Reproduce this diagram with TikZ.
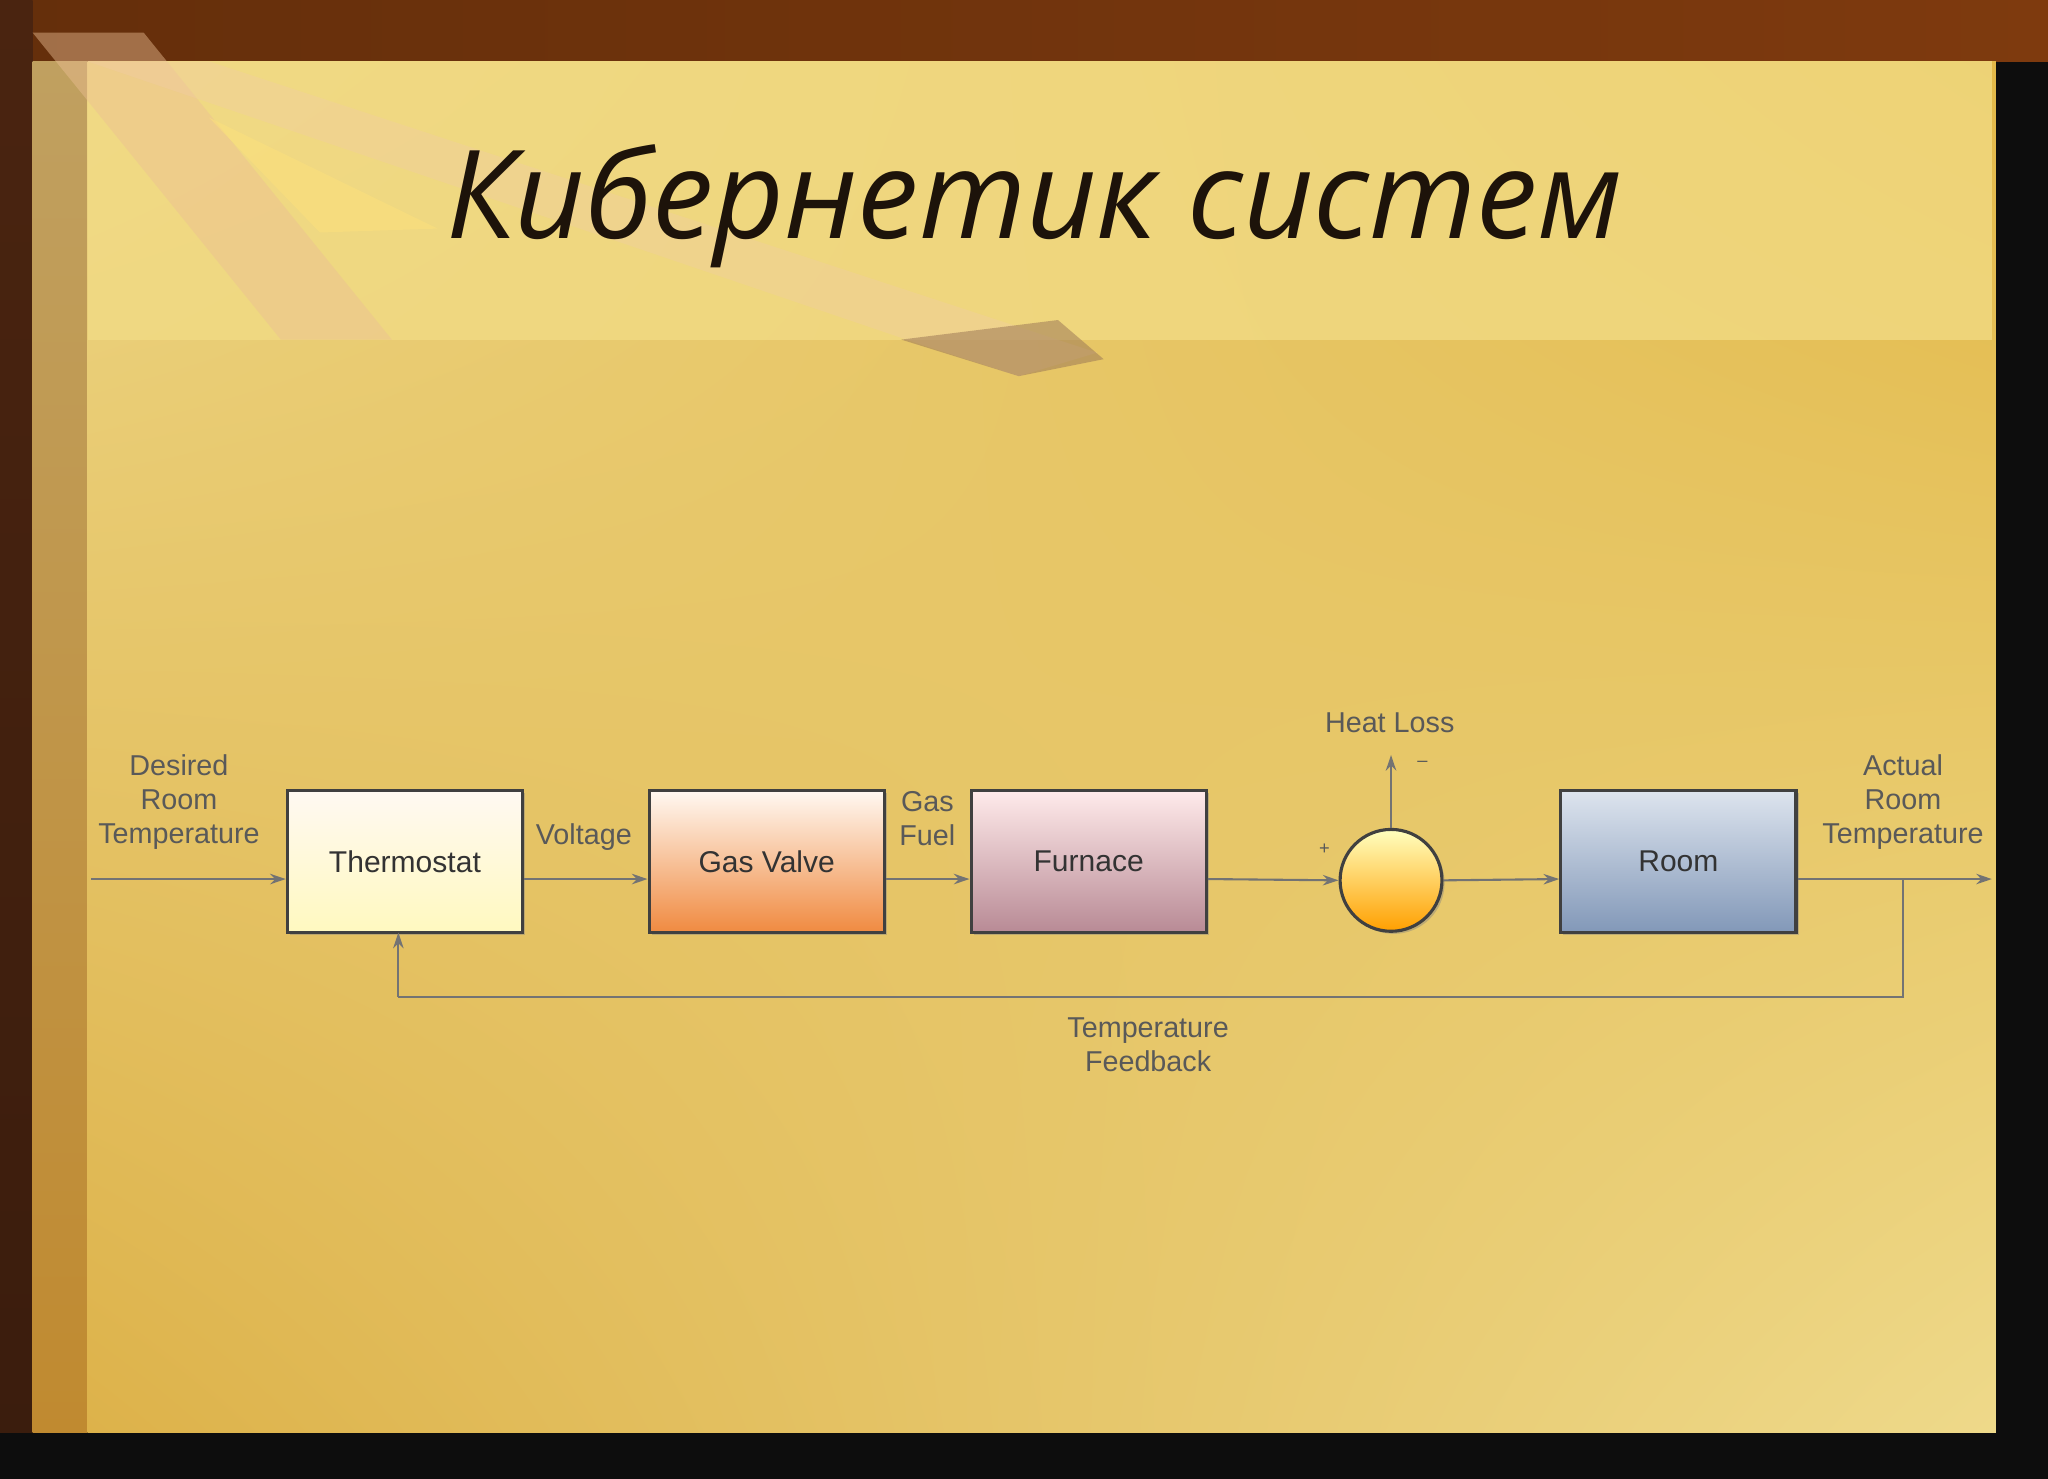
\documentclass[tikz,border=0pt]{standalone}
\usepackage{fontspec}
\setmainfont{Liberation Sans}
\newfontfamily\titlefont{Open Sans}
\usetikzlibrary{arrows.meta,shadows,shadings}
\definecolor{pA}{HTML}{EDD583}
\definecolor{pB}{HTML}{E2B848}
\definecolor{pC}{HTML}{DDB24A}
\definecolor{pD}{HTML}{EED98A}
\definecolor{band}{HTML}{F2DC86}
\definecolor{topbr}{HTML}{7E3A0E}
\definecolor{leftbr}{HTML}{4A2410}
\definecolor{strip1}{HTML}{C0A060}
\definecolor{strip2}{HTML}{C08A30}
\definecolor{fuB}{HTML}{B88A95}
\definecolor{roB}{HTML}{8298B8}
\definecolor{roT}{HTML}{DDE4EE}
\definecolor{gvB}{HTML}{F08A40}
\begin{document}
\begin{tikzpicture}[x=0.5pt,y=-0.5pt,
  blk/.style={draw=black!75,line width=1.2pt,minimum width=90pt,minimum height=54.5pt,font=\fontsize{11.5}{13}\selectfont,text=black!80,drop shadow={shadow xshift=1pt,shadow yshift=-1pt,opacity=0.4}},
  lbl/.style={font=\fontsize{11}{13}\selectfont,text=black!65,align=center},
  ln/.style={draw=black!55,line width=0.8pt},
  arr/.style={ln,-{Stealth[length=6pt,width=4pt]}}]
\useasboundingbox (0,0) rectangle (1568,1132);
% background frame
\fill[black!95] (0,0) rectangle (1568,1132);
\shade[left color=topbr!80!black,right color=topbr] (0,0) rectangle (1568,47);
\shade[top color=leftbr,bottom color=leftbr!80!black] (0,0) rectangle (25,1097);
\shade[top color=strip1,bottom color=strip2] (25,47) rectangle (67,1097);
% panel
\shade[upper left=pA,upper right=pB,lower left=pC,lower right=pD] (67,47) rectangle (1528,1097);
\fill[band,opacity=0.75] (67,47) rectangle (1525,260);
% decorative stripes
\fill[brown!60!orange!50,opacity=0.45] (25,25) -- (110,25) -- (300,260) -- (215,260) -- cycle;
\fill[orange!45!brown!40,opacity=0.35] (67,47) -- (160,47) -- (840,270) -- (780,288) -- (700,262) -- cycle;
\fill[brown!70!black!80,opacity=0.55] (690,260) -- (810,245) -- (845,275) -- (780,288) -- cycle;
\fill[yellow!60!orange!50,opacity=0.5] (160,90) -- (335,175) -- (245,178) -- cycle;
\node[font=\titlefont\itshape\fontsize{47}{56}\selectfont,text=black!85!brown] (title) at (792,158) {Кибернетик систем};
% blocks
\node[blk,top color=white!95!orange,bottom color=orange!20!yellow!25] (th) at (310,659.5) {Thermostat};
\node[blk,top color=white!95!orange,bottom color=gvB] (gv) at (587,659.5) {Gas Valve};
\node[blk,top color=white!92!red,bottom color=fuB] (fu) at (833.5,659.5) {Furnace};
\node[blk,top color=roT,bottom color=roB] (ro) at (1285,659.5) {Room};
\node[draw=black!75,line width=1.2pt,circle,minimum size=39pt,inner sep=0,top color=yellow!25,bottom color=orange!75!yellow,drop shadow={shadow xshift=1pt,shadow yshift=-1pt,opacity=0.4}] (sum) at (1065,674) {};
\coordinate (in) at (70,673);
\coordinate (out) at (1525,673);
\coordinate (tap) at (1457,673);
\coordinate (fb1) at (1457,763);
\coordinate (fb2) at (305,763);
\coordinate (hl) at (1065,578);
\draw[arr] (in) -- (th.west|-in);
\draw[arr] (th.east|-in) -- (gv.west|-in);
\draw[arr] (gv.east|-in) -- (fu.west|-in);
\draw[arr] (fu.east|-in) -- (sum.west);
\draw[arr] (sum.east) -- (ro.west|-in);
\draw[arr] (ro.east|-in) -- (out);
\draw[ln] (tap) -- (fb1) -- (fb2);
\draw[arr] (fb2) -- (305,714);
\draw[arr] (sum.north) -- (hl);
% labels
\node[lbl] (l1) at (137,614) {Desired\\Room\\Temperature};
\node[lbl] (l2) at (447,641) {Voltage};
\node[lbl] (l3) at (710,627) {Gas\\Fuel};
\node[lbl] (l4) at (1064,553) {Heat Loss};
\node[lbl] (l5) at (1457,614) {Actual\\Room\\Temperature};
\node[lbl] (l6) at (879,800) {Temperature\\Feedback};
\node[lbl,font=\fontsize{7}{8}\selectfont] (pl) at (1014,650) {+};
\node[lbl,font=\fontsize{7}{8}\selectfont] (mi) at (1089,585) {--};
\end{tikzpicture}
\end{document}
